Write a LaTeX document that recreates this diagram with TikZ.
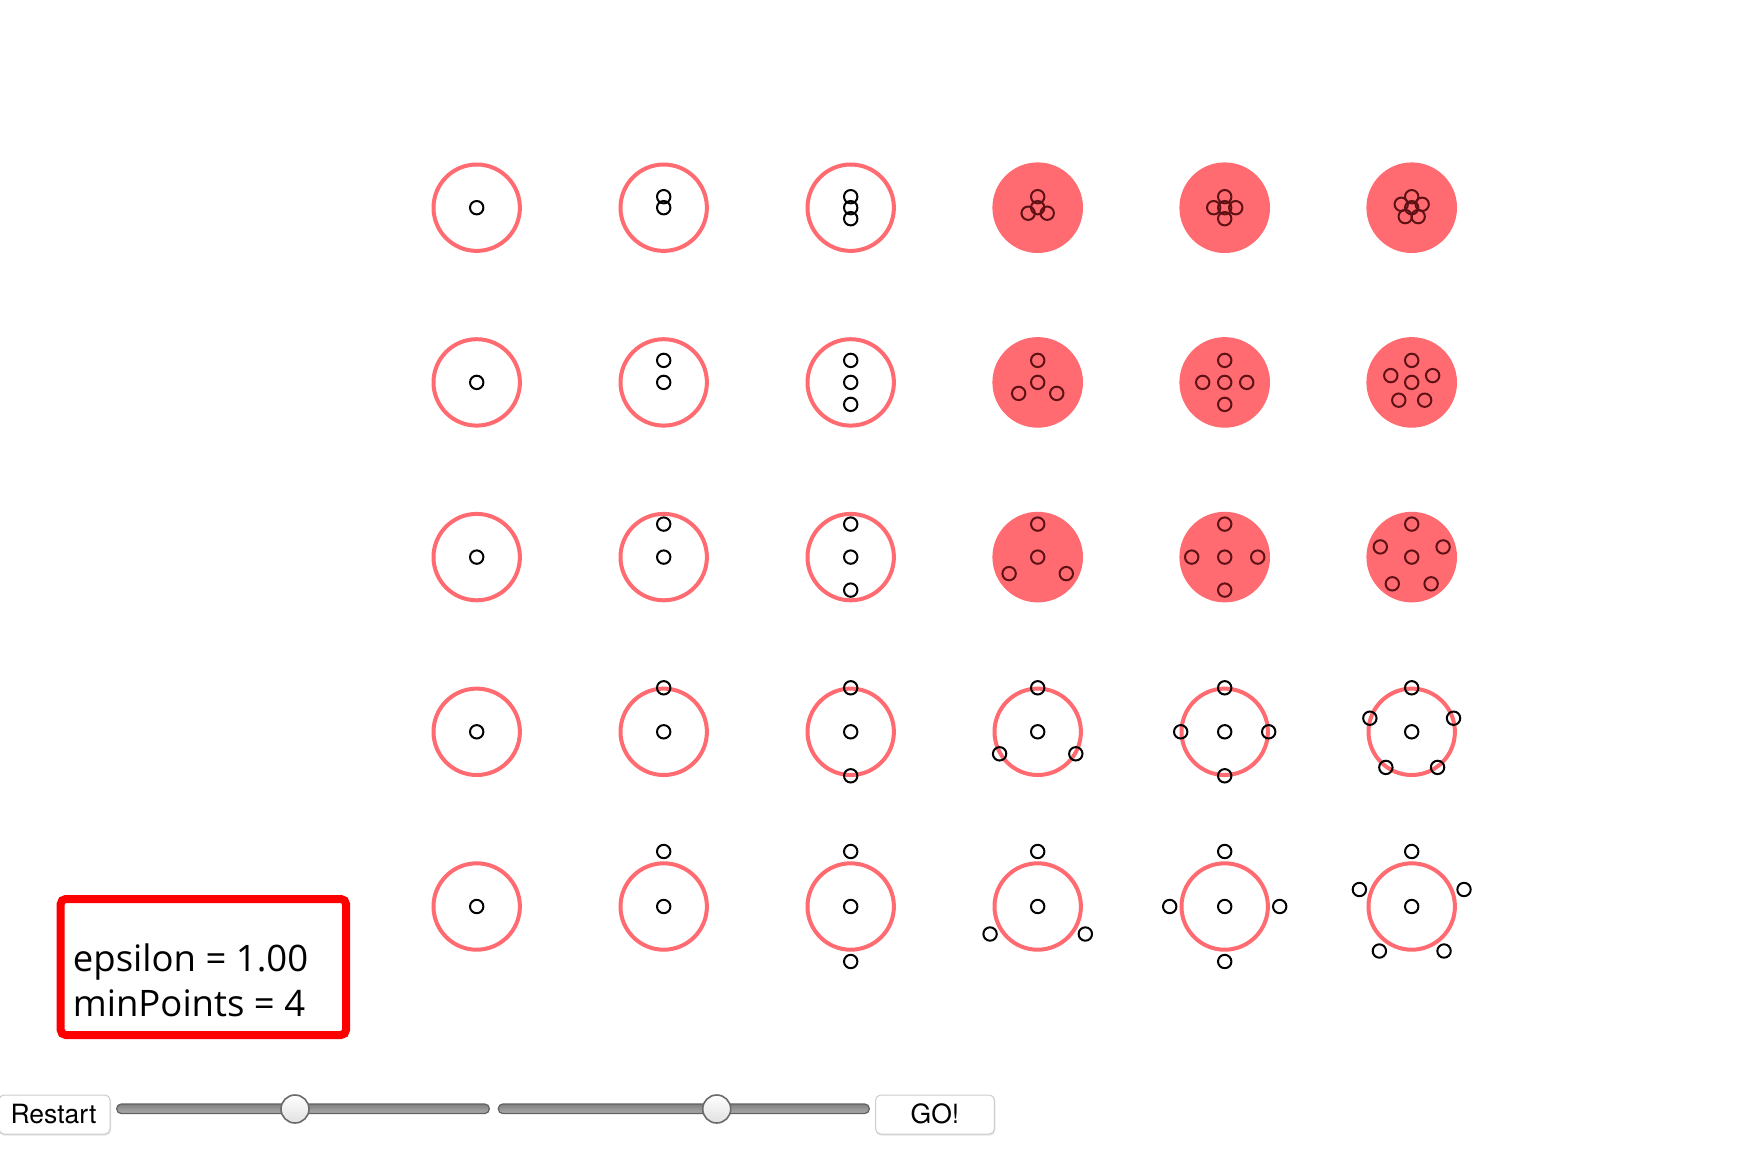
\documentclass[tikz,border=0pt]{standalone}
\usepackage{fontspec}
\setmainfont{TeX Gyre Heros}
\newfontfamily\boxfont{Open Sans}
\definecolor{epscol}{RGB}{255,107,112}
\definecolor{ptdark}{RGB}{95,18,22}
\definecolor{boxred}{RGB}{255,0,0}
\tikzset{
  ring/.style={draw=epscol, line width=4pt},
  corefill/.style={fill=epscol},
  pt/.style={draw=black, line width=2pt},
  ptcore/.style={draw=ptdark, line width=2pt},
  btn/.style={draw=black!20, fill=white, line width=1pt, rounded corners=5pt},
  track/.style={draw=black!62, line width=1.2pt, rounded corners=4.5pt, top color=black!50, bottom color=black!32},
  thumb/.style={draw=black!58, line width=1.6pt, top color=white, bottom color=black!12},
  lbl/.style={font=\boxfont\fontsize{36.5}{44}\selectfont, anchor=base west, inner sep=0pt},
  btnlbl/.style={font=\fontsize{26.5}{30}\selectfont, anchor=base, inner sep=0pt}
}
\begin{document}
\begin{tikzpicture}[x=1pt,y=-1pt]
\useasboundingbox (0,0) rectangle (1756,1156);
\fill[white] (0,0) rectangle (1756,1156);
% grid of epsilon neighbourhoods
\foreach \c in {1,...,6}{
  \foreach \r in {1,...,5}{
    \pgfmathsetmacro\cx{476.7+187*(\c-1)}
    \pgfmathsetmacro\cy{207.7+174.7*(\r-1)}
    \pgfmathsetmacro\rr{11*\r}
    \pgfmathtruncatemacro\core{(\c>3)&&(\r<4)}
    \pgfmathtruncatemacro\m{\c-1}
    \ifnum\core=1
      \fill[corefill] (\cx,\cy) circle[radius=45.3];
      \draw[ptcore] (\cx,\cy) circle[radius=6.7];
      \foreach \i in {1,...,\m}{
        \pgfmathsetmacro\ang{90+360*(\i-1)/\m}
        \draw[ptcore] ({\cx+\rr*cos(\ang)},{\cy-\rr*sin(\ang)}) circle[radius=6.7];
      }
    \else
      \draw[ring] (\cx,\cy) circle[radius=43.2];
      \draw[pt] (\cx,\cy) circle[radius=6.7];
      \ifnum\m>0
        \foreach \i in {1,...,\m}{
          \pgfmathsetmacro\ang{90+360*(\i-1)/\m}
          \draw[pt] ({\cx+\rr*cos(\ang)},{\cy-\rr*sin(\ang)}) circle[radius=6.7];
        }
      \fi
    \fi
  }
}
% parameter box
\fill[black!30, rounded corners=6pt] (62.5,901) rectangle (348.5,1037.5);
\draw[draw=boxred, line width=8pt, rounded corners=5pt, fill=white] (60.7,899) rectangle (346,1035);
\node[lbl] (epsl) at (72.7,971.7) {epsilon = 1.00};
\node[lbl] (minp) at (72.7,1016) {minPoints = 4};
% controls
\fill[black!10, rounded corners=5pt] (-1,1096) rectangle (111,1135.5);
\draw[btn] (-1,1095) rectangle (110,1134);
\node[btnlbl] (restart) at (53.5,1123.3) {Restart};
\draw[track] (116.7,1104) rectangle (489.3,1113.5);
\draw[thumb] (295,1109) circle[radius=14];
\draw[track] (498.3,1104) rectangle (869.3,1113.5);
\draw[thumb] (716.7,1109) circle[radius=14];
\fill[black!10, rounded corners=5pt] (875.7,1096) rectangle (995.3,1135.5);
\draw[btn] (875.7,1095) rectangle (994.3,1134);
\node[btnlbl] (go) at (935,1123.3) {GO!};
\end{tikzpicture}
\end{document}
